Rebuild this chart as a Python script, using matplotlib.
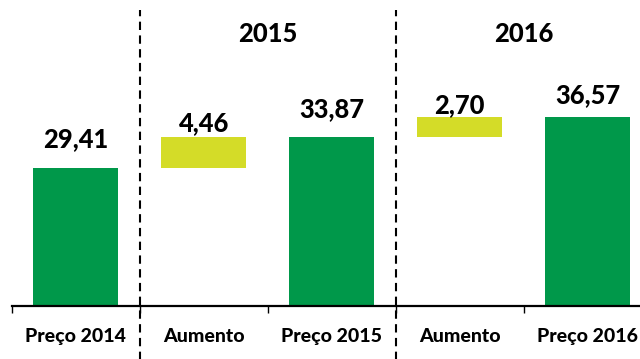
import matplotlib.pyplot as plt

# price walk: start price, increase, new price, increase, new price
categories = ["Preço 2014", "Aumento", "Preço 2015", "Aumento", "Preço 2016"]
values = [29.41, 4.46, 33.87, 2.70, 36.57]
is_total = [True, False, True, False, True]
value_labels = ["29,41", "4,46", "33,87", "2,70", "36,57"]
years = ["2015", "2016"]

GREEN = "#00984a"
YELLOW = "#d4dc28"
AXIS_MIN = 10.0
WEIGHT = 900

plt.rcParams["font.family"] = ["Lato", "DejaVu Sans"]

fig = plt.figure(figsize=(6.4, 3.59), dpi=100)
ax = fig.add_axes([0.0183, 0.1476, 1.0, 0.8524])

# bottoms of the bars: totals start from the axis floor, increases float
bottoms = []
running = 0.0
for v, tot in zip(values, is_total):
    if tot:
        bottoms.append(AXIS_MIN)
        running = v
    else:
        bottoms.append(running)
        running += v
heights = [v - AXIS_MIN if tot else v for v, tot in zip(values, is_total)]
colors = [GREEN if tot else YELLOW for tot in is_total]

x = list(range(len(categories)))
ax.bar(x, heights, bottom=bottoms, width=0.665, color=colors, zorder=2)

# value labels above each bar (pixel gap above the bar top)
gaps = [21, 5, 19, 4, 14]
for xi, b, h, lab, g in zip(x, bottoms, heights, value_labels, gaps):
    ax.annotate(lab, (xi, b + h), xytext=(0, g), textcoords="offset pixels",
                ha="center", va="baseline", fontsize=18.4, fontweight=WEIGHT)

# year separators and headers
for xb in (0.5, 2.5):
    ax.axvline(xb, ymin=-0.175, ymax=0.967, clip_on=False, color="black",
               lw=1.5, ls=(0, (4, 2.6)), zorder=3)
for xh, yr in zip((1.5, 3.5), years):
    ax.text(xh, 0.889, yr, transform=ax.get_xaxis_transform(), ha="center",
            va="center", fontsize=18.4, fontweight=WEIGHT)

ax.set_xlim(-0.5, len(categories) - 0.5)
ax.set_ylim(AXIS_MIN, 53.1)

# boundary ticks on the axis, category names in between
ax.set_xticks([i - 0.5 for i in range(len(categories) + 1)])
ax.set_xticklabels([])
ax.set_xticks(x, minor=True)
ax.set_xticklabels(categories, minor=True, fontsize=14, fontweight=WEIGHT)
ax.tick_params(axis="x", which="major", direction="out", length=5, width=1)
ax.tick_params(axis="x", which="minor", length=0, pad=16)
ax.set_yticks([])
for side in ("left", "right", "top"):
    ax.spines[side].set_visible(False)
ax.spines["bottom"].set_linewidth(1.6)

fig.savefig("out.png", dpi=100)
